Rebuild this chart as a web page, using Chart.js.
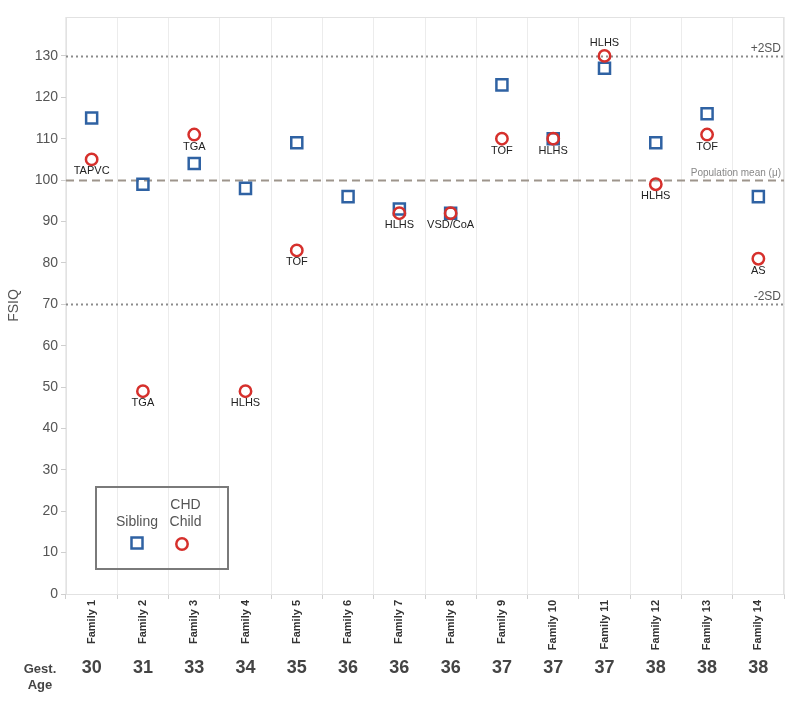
<!DOCTYPE html>
<html><head><meta charset="utf-8">
<script src="https://cdn.jsdelivr.net/npm/chart.js@4"></script>
<style>html,body{margin:0;padding:0;background:#fff}#wrap{width:800px;height:710px}</style>
</head><body><div id="wrap"><canvas id="c" width="800" height="710"></canvas></div>
<script>
const families = ['Family 1','Family 2','Family 3','Family 4','Family 5','Family 6','Family 7','Family 8','Family 9','Family 10','Family 11','Family 12','Family 13','Family 14'];
const gestAge = [30,31,33,34,35,36,36,36,37,37,37,38,38,38];
const siblingIQ = [115,99,104,98,109,96,93,92,123,110,127,109,116,96];
const chdIQ = [105,49,111,49,83,null,92,92,110,110,130,99,111,81];
const chdDiagnosis = ['TAPVC','TGA','TGA','HLHS','TOF','','HLHS','VSD/CoA','TOF','HLHS','HLHS','HLHS','TOF','AS'];
const labelAbove = [false,false,false,false,false,false,false,false,false,false,true,false,false,false];
const refLines = [
  {value:130, label:'+2SD', kind:'dot'},
  {value:100, label:'Population mean (\u03bc)', kind:'dash'},
  {value:70, label:'-2SD', kind:'dot'}
];
const yMin = 0, yMax = 139.4, yStep = 10;

const BLUE = '#2f62a3', RED = '#d6302c';
const FONT = '"Liberation Sans", Arial, Helvetica, sans-serif';

const overlay = {
  id:'overlay',
  beforeDatasetsDraw(chart){
    const ctx = chart.ctx, a = chart.chartArea, y = chart.scales.y;
    ctx.save();
    ctx.strokeStyle = '#e2e2e2'; ctx.lineWidth = 1;
    ctx.strokeRect(a.left+0.5, a.top+0.5, a.right-a.left-1, a.bottom-a.top);
    refLines.forEach(r=>{
      const py = Math.round(y.getPixelForValue(r.value))+0.5;
      ctx.beginPath();
      if(r.kind==='dot'){ctx.setLineDash([2,3]); ctx.strokeStyle='#8c8c8c'; ctx.lineWidth=2;}
      else {ctx.setLineDash([8,5]); ctx.strokeStyle='#9e958c'; ctx.lineWidth=2;}
      ctx.moveTo(a.left, py); ctx.lineTo(a.right, py); ctx.stroke();
      ctx.setLineDash([]);
      ctx.textAlign='right'; ctx.textBaseline='bottom';
      if(r.kind==='dot'){ctx.font='12px '+FONT; ctx.fillStyle='#555';}
      else {ctx.font='10px '+FONT; ctx.fillStyle='#888';}
      ctx.fillText(r.label, a.right-3, py-2);
    });
    ctx.restore();
  },
  afterDatasetsDraw(chart){
    const ctx = chart.ctx;
    const meta = chart.getDatasetMeta(0);
    ctx.save();
    ctx.font='11px '+FONT; ctx.fillStyle='#222'; ctx.textAlign='center'; ctx.textBaseline='middle';
    meta.data.forEach((pt,i)=>{
      if(chdIQ[i]==null || !chdDiagnosis[i]) return;
      const dy = labelAbove[i] ? -13 : 12;
      ctx.fillText(chdDiagnosis[i], pt.x, pt.y+dy);
    });
    ctx.restore();
  },
  afterDraw(chart){
    const ctx = chart.ctx, x = chart.scales.x;
    ctx.save();
    ctx.fillStyle='#444'; ctx.textAlign='center'; ctx.textBaseline='middle';
    ctx.font='bold 18px '+FONT;
    gestAge.forEach((g,i)=>{ ctx.fillText(String(g), x.getPixelForValue(i), 668); });
    ctx.font='bold 13px '+FONT;
    ctx.fillText('Gest.', 40, 669);
    ctx.fillText('Age', 40, 685);
    // legend box
    ctx.strokeStyle='#7a7a7a'; ctx.lineWidth=2;
    ctx.strokeRect(96, 487, 132, 82);
    ctx.font='14px '+FONT; ctx.fillStyle='#555';
    ctx.fillText('Sibling', 137, 522);
    ctx.fillText('CHD', 185.5, 505);
    ctx.fillText('Child', 185.5, 522);
    ctx.strokeStyle=BLUE; ctx.lineWidth=2.5;
    ctx.strokeRect(131.5, 537.5, 11, 11);
    ctx.strokeStyle=RED;
    ctx.beginPath(); ctx.arc(182, 544, 5.7, 0, Math.PI*2); ctx.stroke();
    ctx.restore();
  }
};

new Chart(document.getElementById('c'), {
  type:'line',
  data:{
    labels: families,
    datasets:[
      {label:'CHD Child', data: chdIQ, showLine:false, pointStyle:'circle', pointRadius:5.7, pointBorderWidth:2.5,
       pointBorderColor:RED, pointBackgroundColor:'rgba(0,0,0,0)', borderColor:RED, backgroundColor:'rgba(0,0,0,0)'},
      {label:'Sibling', data: siblingIQ, showLine:false, pointStyle:'rect', pointRadius:7.8, pointBorderWidth:2.5,
       pointBorderColor:BLUE, pointBackgroundColor:'rgba(0,0,0,0)', borderColor:BLUE, backgroundColor:'rgba(0,0,0,0)'}
    ]
  },
  options:{
    responsive:false, animation:false, events:[],
    layout:{padding:{top:17, right:16, left:0, bottom:0}},
    plugins:{legend:{display:false}, tooltip:{enabled:false}},
    scales:{
      x:{
        type:'category', offset:true,
        grid:{offset:true, color:'#ececec', drawTicks:true, tickLength:5, tickColor:'#cfcfcf'},
        border:{display:true, color:'#dcdcdc'},
        ticks:{minRotation:90, maxRotation:90, autoSkip:false, padding:1, color:'#333', font:{family:FONT, size:11, weight:'bold'}},
        afterFit(s){ s.height = 116; }
      },
      y:{
        min:yMin, max:yMax,
        grid:{drawOnChartArea:false, drawTicks:true, tickLength:5, tickColor:'#cfcfcf'},
        border:{display:true, color:'#dcdcdc'},
        ticks:{stepSize:yStep, includeBounds:false, padding:3, color:'#555', font:{family:FONT, size:14}},
        title:{display:true, text:'FSIQ', color:'#555', font:{family:FONT, size:14}, padding:{top:6,bottom:0}},
        afterFit(s){ s.width = 66; }
      }
    }
  },
  plugins:[overlay]
});
</script>
</body></html>
